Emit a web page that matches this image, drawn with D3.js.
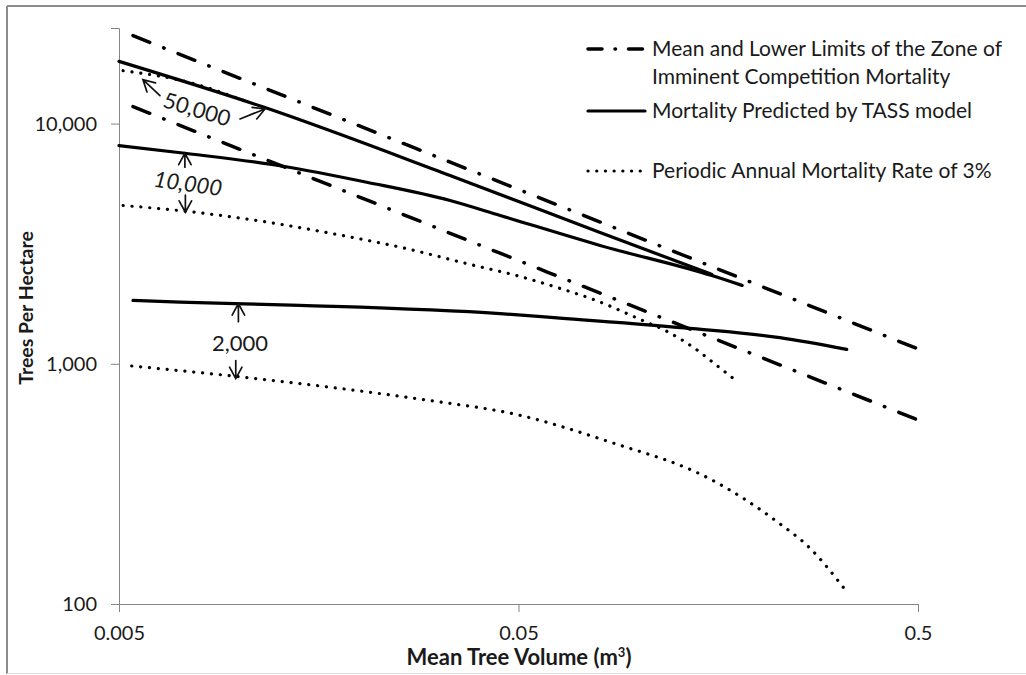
<!DOCTYPE html>
<html lang="en">

<head>
  <meta charset="UTF-8">
  <title>Mortality chart</title>
  <script src="https://d3js.org/d3.v7.min.js"></script>
  <style>
    body { margin: 0; background: #fff; }
    text { font-family: Lato, "Open Sans", sans-serif; fill: #1a1a1a; }
  </style>
</head>

<body>
  <script>
    // tick labels
    const xTickVals = [0.005, 0.05, 0.5]
    const yTickVals = [100, 1000, 10000]

    // zone of imminent competition mortality (mean and lower limit)
    const meanZoneVol = [0.00542, 0.05, 0.4955]
    const meanZoneTph = [23230, 5320, 1160]
    const lowerZoneVol = [0.00542, 0.05, 0.4955]
    const lowerZoneTph = [11770, 2690, 587]

    // TASS predictions, by starting density
    const tass50kVol = [0.005, 0.0114, 0.0337, 0.08, 0.1524]
    const tass50kTph = [18150, 11770, 6080, 3520, 2355]
    const tass10kVol = [0.005, 0.00731, 0.01286, 0.02085, 0.0337, 0.045, 0.080, 0.1524, 0.1815]
    const tass10kTph = [8100, 7525, 6645, 5700, 4786, 4145, 3110, 2330, 2119]
    const tass2kVol = [0.00542, 0.0071, 0.01419, 0.045, 0.0635, 0.1366, 0.2255, 0.3316]
    const tass2kTph = [1837, 1807, 1751, 1618, 1550, 1401, 1285, 1148]

    // 3% periodic annual mortality
    const pam50kVol = [0.00512, 0.00753, 0.0105]
    const pam50kTph = [16600, 14810, 12300]
    const pam10kVol = [0.00512, 0.00731, 0.01174, 0.01716, 0.02525, 0.0372, 0.0503, 0.0635, 0.0769, 0.102, 0.1177, 0.138, 0.1565, 0.176]
    const pam10kTph = [4560, 4320, 3890, 3480, 3060, 2610, 2312, 2060, 1854, 1517, 1364, 1160, 986, 845]
    const pam2kVol = [0.00538, 0.00976, 0.01716, 0.0306, 0.049, 0.0845, 0.150, 0.222, 0.269, 0.3255]
    const pam2kTph = [979, 887, 796, 700, 617, 473, 333, 220, 170, 117]

    const legendLabels = [
      ['Mean and Lower Limits of the Zone of', 'Imminent Competition Mortality'],
      ['Mortality Predicted by TASS model'],
      ['Periodic Annual Mortality Rate of 3%']
    ]

    const W = 1026, H = 675
    const svg = d3.select('body').append('svg')
      .attr('width', W).attr('height', H)

    // outer frame
    svg.append('line').attr('x1', 7).attr('y1', 6).attr('x2', W).attr('y2', 6)
      .attr('stroke', '#8c8c8c').attr('stroke-width', 2)
    svg.append('line').attr('x1', 7).attr('y1', 6).attr('x2', 7).attr('y2', H - 1)
      .attr('stroke', '#8c8c8c').attr('stroke-width', 2)
    svg.append('line').attr('x1', 7).attr('y1', H - 1.5).attr('x2', W).attr('y2', H - 1.5)
      .attr('stroke', '#dddddd').attr('stroke-width', 1)

    const x = d3.scaleLog().domain([0.005, 0.5]).range([119, 918])
    const y = d3.scaleLog().domain([100, 25000]).range([604, 28])

    const axisColor = '#868686'

    // y axis
    const yMinor = []
    for (let d = 100; d <= 10000; d *= 10)
      for (let k = 2; k <= 9; k++) if (d * k <= 25000) yMinor.push(d * k)
    const gy = svg.append('g').attr('transform', 'translate(119,0)')
      .call(d3.axisLeft(y).tickValues(yMinor).tickSize(6).tickFormat(''))
    gy.call(d3.axisLeft(y).tickValues(yTickVals).tickSize(8).tickFormat(d3.format(',')))
    gy.selectAll('path.domain').attr('stroke', axisColor)
    gy.selectAll('line').attr('stroke', axisColor)
    gy.selectAll('text').attr('font-size', 20).attr('x', -22).attr('dy', '0.34em')

    // x axis
    const xMinor = []
    for (let d = 0.005; d < 0.5; d *= 10)
      for (let k = 2; k <= 9; k++) xMinor.push(d * k)
    const gx = svg.append('g').attr('transform', 'translate(0,604)')
      .call(d3.axisBottom(x).tickValues(xMinor).tickSize(5).tickFormat(''))
    gx.call(d3.axisBottom(x).tickValues(xTickVals).tickSize(8).tickFormat(d => String(d)))
    gx.selectAll('path.domain').attr('stroke', axisColor)
    gx.selectAll('line').attr('stroke', axisColor)
    gx.selectAll('text').attr('font-size', 20).attr('y', 22).attr('dy', '0.71em')

    // axis titles
    svg.append('text').attr('x', 519).attr('y', 665)
      .attr('text-anchor', 'middle').attr('font-size', 22).attr('font-weight', 'bold')
      .html('Mean Tree Volume (m<tspan baseline-shift="super" font-size="13">3</tspan>)')
    svg.append('text').attr('transform', 'translate(33,308) rotate(-90)')
      .attr('text-anchor', 'middle').attr('font-size', 19.5).attr('font-weight', 'bold')
      .text('Trees Per Hectare')

    const line = d3.line().x(d => x(d[0])).y(d => y(d[1])).curve(d3.curveMonotoneX)
    const pts = (vs, ts) => vs.map((v, i) => [v, ts[i]])

    const styles = {
      dashdot: { dash: '18 15 0.5 15', width: 3.5 },
      solid: { dash: null, width: 3.2 },
      dotted: { dash: '0.1 8.8', width: 3.2 }
    }

    const series = [
      { d: pts(pam50kVol, pam50kTph), s: 'dotted' },
      { d: pts(pam10kVol, pam10kTph), s: 'dotted' },
      { d: pts(pam2kVol, pam2kTph), s: 'dotted' },
      { d: pts(meanZoneVol, meanZoneTph), s: 'dashdot' },
      { d: pts(lowerZoneVol, lowerZoneTph), s: 'dashdot' },
      { d: pts(tass50kVol, tass50kTph), s: 'solid' },
      { d: pts(tass10kVol, tass10kTph), s: 'solid' },
      { d: pts(tass2kVol, tass2kTph), s: 'solid' }
    ]

    svg.append('g').selectAll('path')
      .data(series)
      .enter()
      .append('path')
      .attr('d', d => line(d.d))
      .attr('fill', 'none')
      .attr('stroke', '#000')
      .attr('stroke-width', d => styles[d.s].width)
      .attr('stroke-linecap', 'round')
      .attr('stroke-dasharray', d => styles[d.s].dash)

    // annotations: arrows point at a curve, labels sit between them
    const arrows = [
      { v: 0.00574, t: 15240, dx: 17, dy: 16 },
      { v: 0.0116, t: 11510, dx: -25, dy: 10 },
      { v: 0.00731, t: 7525, dx: 0, dy: 14 },
      { v: 0.00733, t: 4276, dx: 0, dy: -17 },
      { v: 0.00995, t: 1780, dx: 0, dy: 18 },
      { v: 0.0098, t: 868, dx: 0, dy: -18 }
    ]
    const labels = [
      { v: 0.00784, t: 11480, txt: '50,000', rot: 17, italic: false },
      { v: 0.00744, t: 5630, txt: '10,000', rot: 8, italic: true },
      { v: 0.01004, t: 1217, txt: '2,000', rot: 0, italic: false }
    ]

    const ag = svg.append('g').attr('stroke', '#111').attr('stroke-width', 1.7)
      .attr('fill', 'none').attr('stroke-linecap', 'round')
    arrows.forEach(a => {
      const tx = x(a.v), ty = y(a.t)
      const len = Math.hypot(a.dx, a.dy)
      const ux = a.dx / len, uy = a.dy / len
      const wing = 13, ang = 0.5
      const w1 = [tx + wing * (ux * Math.cos(ang) - uy * Math.sin(ang)), ty + wing * (uy * Math.cos(ang) + ux * Math.sin(ang))]
      const w2 = [tx + wing * (ux * Math.cos(-ang) - uy * Math.sin(-ang)), ty + wing * (uy * Math.cos(-ang) + ux * Math.sin(-ang))]
      ag.append('path')
        .attr('d', `M${tx + a.dx},${ty + a.dy}L${tx},${ty}M${w1[0]},${w1[1]}L${tx},${ty}L${w2[0]},${w2[1]}`)
    })

    labels.forEach(l => {
      svg.append('text')
        .attr('transform', `translate(${x(l.v)},${y(l.t)}) rotate(${l.rot})`)
        .attr('text-anchor', 'middle').attr('dy', '0.36em')
        .attr('font-size', 22)
        .attr('font-style', l.italic ? 'italic' : 'normal')
        .text(l.txt)
    })

    // legend
    const lg = svg.append('g')
    const legendRows = [
      { s: 'dashdot', y: 49, dash: '14 13 0.5 13' },
      { s: 'solid', y: 111, dash: null },
      { s: 'dotted', y: 171, dash: '0.1 8.6' }
    ]
    legendRows.forEach((r, i) => {
      lg.append('line').attr('x1', 588).attr('x2', 645).attr('y1', r.y).attr('y2', r.y)
        .attr('stroke', '#000').attr('stroke-width', styles[r.s].width)
        .attr('stroke-linecap', 'round').attr('stroke-dasharray', r.dash)
      legendLabels[i].forEach((t, j) => {
        lg.append('text').attr('x', 652).attr('y', r.y + 7 + j * 28)
          .attr('font-size', 21).text(t)
      })
    })
  </script>
</body>

</html>
